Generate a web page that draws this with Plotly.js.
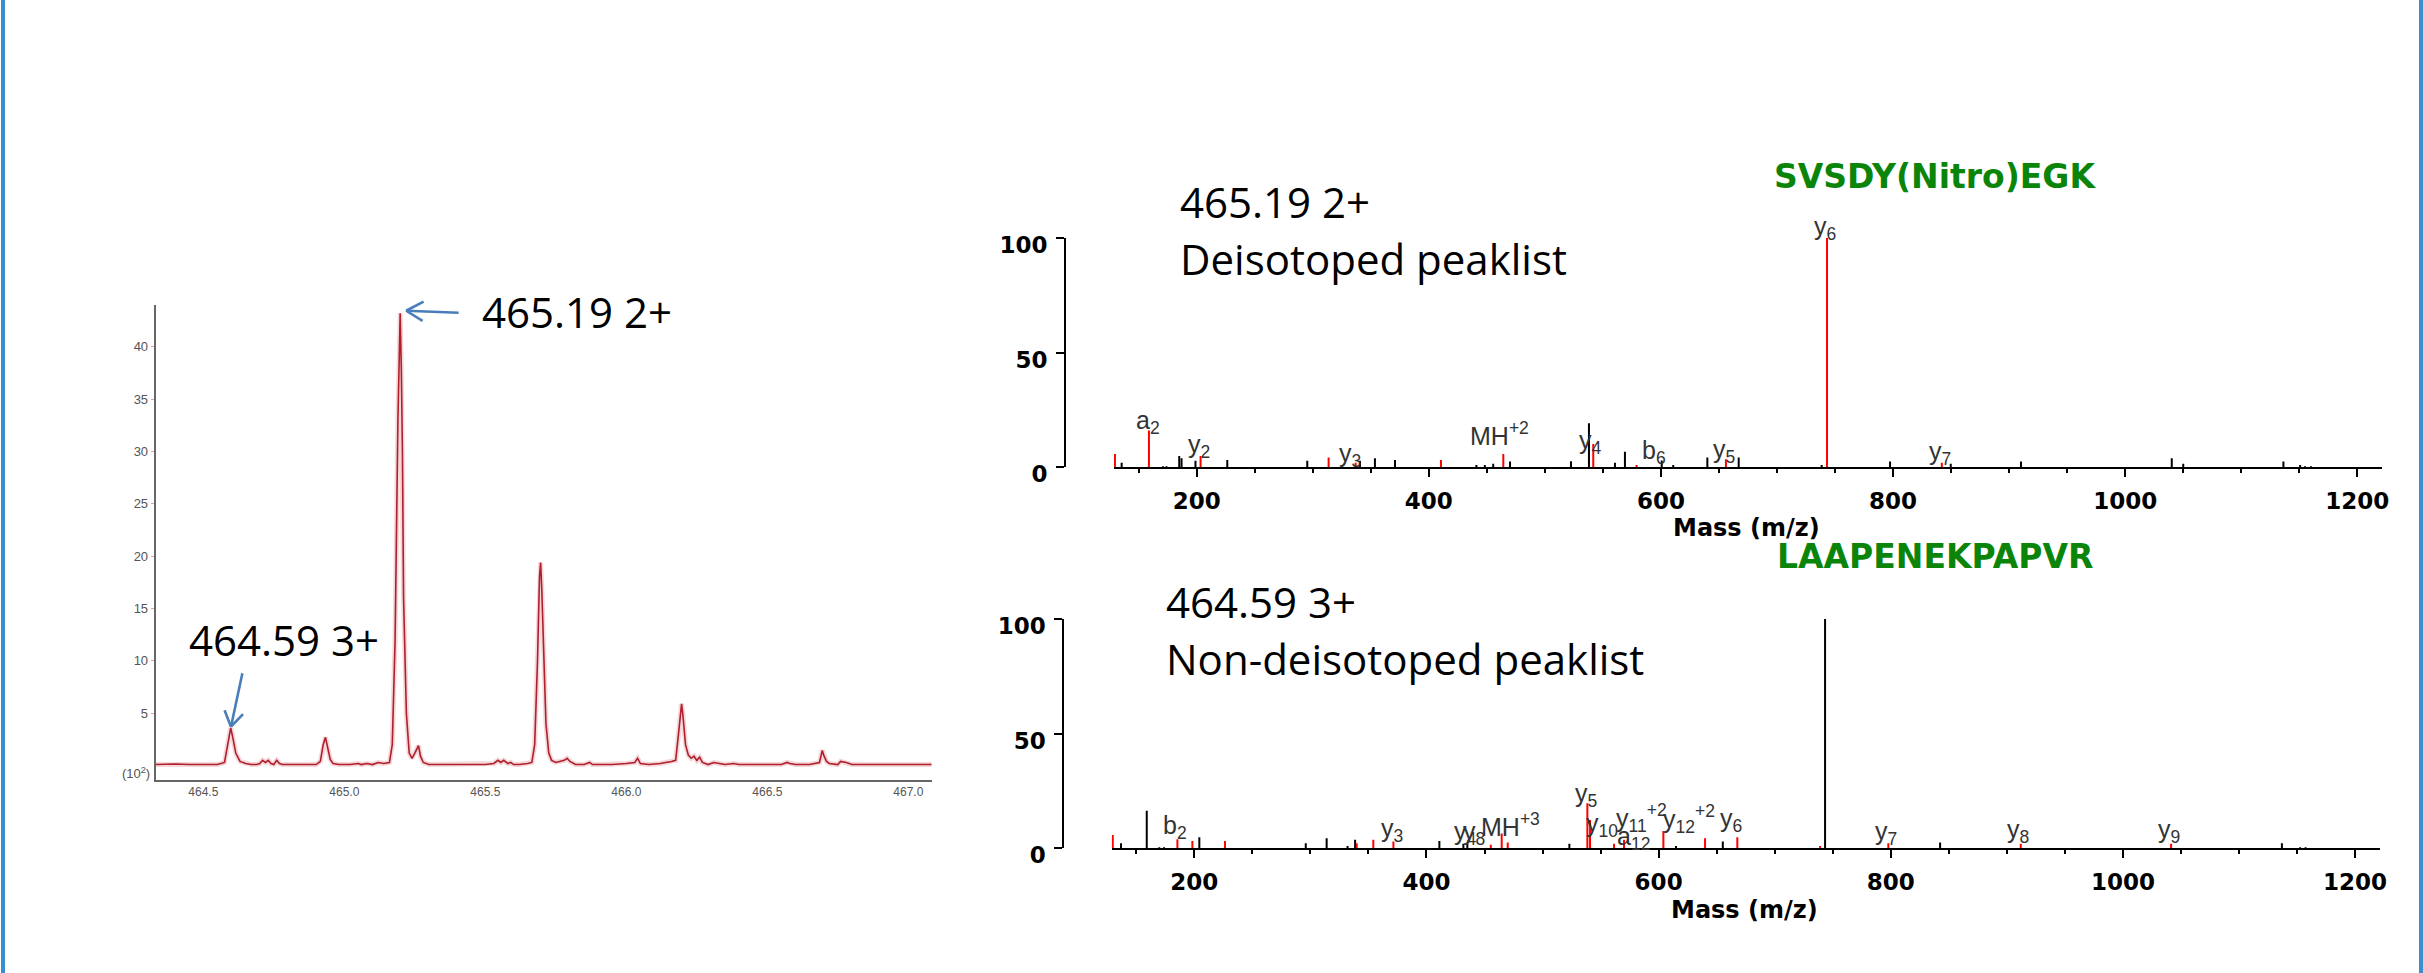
<!DOCTYPE html>
<html><head><meta charset="utf-8">
<script src="https://cdn.plot.ly/plotly-3.0.1.min.js"></script>
<style>html,body{margin:0;padding:0;background:#fff;} #chart{width:2423px;height:973px;}</style>
</head><body><div id="chart"></div>
<script>
// ---------- Left: MS1 profile (m/z vs intensity x10^2) ----------
const profMz = [464.33,464.40,464.45,464.50,464.55,464.575,464.585,464.597,464.605,464.615,464.63,464.65,464.67,464.69,464.70,464.71,464.72,464.73,464.74,464.75,464.76,464.77,464.78,464.80,464.85,464.90,464.915,464.925,464.933,464.94,464.95,464.96,464.98,465.02,465.05,465.06,465.08,465.10,465.12,465.14,465.16,465.17,465.18,465.19,465.198,465.202,465.206,465.21,465.22,465.23,465.24,465.25,465.263,465.27,465.28,465.30,465.35,465.40,465.45,465.50,465.53,465.545,465.555,465.565,465.58,465.59,465.60,465.62,465.65,465.665,465.675,465.685,465.692,465.696,465.70,465.708,465.715,465.725,465.735,465.75,465.78,465.79,465.80,465.82,465.85,465.87,465.88,465.90,465.95,466.00,466.03,466.04,466.05,466.08,466.12,466.16,466.175,466.185,466.196,466.20,466.205,466.21,466.22,466.23,466.24,466.25,466.26,466.27,466.29,466.31,466.35,466.38,466.40,466.45,466.50,466.55,466.57,466.58,466.60,466.65,466.685,466.695,466.70,466.71,466.72,466.75,466.76,466.78,466.80,466.85,466.90,466.95,467.00,467.083];
const profInt = [0.1,0.15,0.1,0.1,0.1,0.3,2.0,3.6,2.6,1.2,0.4,0.2,0.1,0.1,0.2,0.5,0.3,0.5,0.2,0.1,0.5,0.2,0.1,0.1,0.1,0.1,0.4,2.0,2.7,1.8,0.6,0.2,0.1,0.1,0.2,0.1,0.2,0.1,0.3,0.2,0.3,2.0,12,33,43.2,38,30,16,5,1.2,0.7,1.2,1.9,0.9,0.3,0.1,0.1,0.1,0.1,0.1,0.2,0.5,0.3,0.5,0.2,0.3,0.1,0.1,0.2,0.3,2.0,10,18,19.4,17,10,4,1.2,0.5,0.3,0.5,0.7,0.4,0.1,0.1,0.3,0.1,0.1,0.1,0.2,0.3,0.7,0.2,0.1,0.2,0.4,0.5,3.0,5.9,5.0,3.5,2.0,1.0,0.7,0.9,0.5,0.8,0.3,0.1,0.3,0.1,0.2,0.1,0.1,0.1,0.1,0.3,0.2,0.1,0.1,0.3,1.45,1.0,0.4,0.2,0.1,0.4,0.3,0.1,0.1,0.1,0.1,0.1,0.1];
const leftXTicks = [464.5,465.0,465.5,466.0,466.5,467.0];
const leftYTicks = [5,10,15,20,25,30,35,40];

// ---------- Top right: deisotoped peak list (SVSDY(Nitro)EGK) ----------
const topRedMz  = [129.6,158.9,203.4,313.7,337.0,410.5,464.2,541.7,579.0,656.0,743.1,842.0];
const topRedInt = [5.8,16.0,4.9,4.3,2.0,3.2,5.8,10.2,1.0,3.5,100,2.0];
const topBlackMz  = [135.4,171.0,174.0,185.0,187.0,199.0,226.4,295.3,340.7,353.6,370.9,441.0,448.3,455.5,470.0,522.5,538.0,560.4,569.0,600.7,610.6,640.0,667.0,738.5,797.4,849.7,910.2,1040.1,1050.0,1136.3,1150.7,1155.0,1160.0];
const topBlackInt = [2.0,0.5,0.5,4.9,3.9,2.9,3.2,2.9,2.9,3.9,3.2,1.0,1.0,1.5,2.5,2.6,19.2,2.0,6.8,3.0,1.0,4.3,4.3,1.0,2.5,1.5,2.5,3.9,1.5,2.5,1.0,0.5,0.5];
const topLabelText = ['a<sub>2</sub>','y<sub>2</sub>','y<sub>3</sub>','MH<sup>+2</sup>','y<sub>4</sub>','b<sub>6</sub>','y<sub>5</sub>','y<sub>6</sub>','y<sub>7</sub>'];
const topLabelMz   = [158.1,202.4,331.8,461.3,539.7,594.0,654.4,741.3,840.4];
const topLabelInt  = [17.7,6.9,3.0,12.2,9.0,4.3,5.1,102.2,3.9];

// ---------- Bottom right: non-deisotoped peak list (LAAPENEKPAPVR) ----------
const botRedMz  = [129.7,185.4,198.3,226.4,339.9,354.2,371.5,455.4,464.8,470.0,538.6,540.9,561.6,570.2,604.1,640.0,667.8,739.1,797.9,912.0,1041.5];
const botRedInt = [5.8,3.9,3.2,3.2,2.2,3.7,3.0,1.5,6.5,2.5,19.6,12.3,2.0,3.7,7.5,4.4,4.8,1.0,2.2,2.0,2.0];
const botBlackMz  = [136.8,159.0,169.8,173.9,204.3,296.0,314.0,332.0,338.5,411.1,431.8,435.2,523.1,615.0,655.3,743.4,842.5,1137.0,1152.7,1157.4];
const botBlackInt = [2.2,16.4,0.5,0.5,4.8,2.2,4.4,1.0,3.7,3.2,2.0,2.0,2.0,1.0,3.0,100,2.5,2.2,0.5,0.5];
const botLabelText = ['b<sub>2</sub>','y<sub>3</sub>','y<sub>4</sub>','y<sub>8</sub>','MH<sup>+3</sup>','y<sub>5</sub>','y<sub>10</sub>','a<sub>12</sub>','y<sub>11</sub><sup>+2</sup>','y<sub>12</sub><sup>+2</sup>','y<sub>6</sub>','y<sub>7</sub>','y<sub>8</sub>','y<sub>9</sub>'];
const botLabelMz   = [183.4,370.1,434.0,441.0,472.0,537.5,551.3,578.0,585.0,626.0,662.5,795.5,909.7,1039.7];
const botLabelInt  = [6.9,5.8,4.7,4.7,8.0,21.1,8.0,2.5,11.0,10.6,10.2,4.5,5.4,5.4];

const massTicks = [200,400,600,800,1000,1200];
const pctTicks = [0,50,100];

// ---------- helpers ----------
const W = 2423, H = 973;
const PX_PER_PCT = 2.293;
const px = v => v / W, py = v => 1 - v / H;
function sticks(mz, inten) {
  const xs = [], ys = [];
  for (let i = 0; i < mz.length; i++) { xs.push(mz[i], mz[i], null); ys.push(0, inten[i], null); }
  return {x: xs, y: ys};
}
const tRed = sticks(topRedMz, topRedInt), tBlk = sticks(topBlackMz, topBlackInt);
const bRed = sticks(botRedMz, botRedInt), bBlk = sticks(botBlackMz, botBlackInt);

const traces = [
  {x: profMz, y: profInt, type: 'scatter', mode: 'lines', xaxis: 'x', yaxis: 'y', line: {color: 'rgba(225,140,150,0.35)', width: 5}, hoverinfo: 'skip'},
  {x: profMz, y: profInt, type: 'scatter', mode: 'lines', xaxis: 'x', yaxis: 'y', line: {color: '#b01f2c', width: 1.6}},
  {x: tBlk.x, y: tBlk.y, type: 'scatter', mode: 'lines', xaxis: 'x2', yaxis: 'y2', line: {color: '#000', width: 2}},
  {x: tRed.x, y: tRed.y, type: 'scatter', mode: 'lines', xaxis: 'x2', yaxis: 'y2', line: {color: '#ff0000', width: 2}},
  {x: bBlk.x, y: bBlk.y, type: 'scatter', mode: 'lines', xaxis: 'x3', yaxis: 'y3', line: {color: '#000', width: 2}},
  {x: bRed.x, y: bRed.y, type: 'scatter', mode: 'lines', xaxis: 'x3', yaxis: 'y3', line: {color: '#ff0000', width: 2}}
];

const boldFont = {family: 'DejaVu Sans', size: 23, color: '#000', weight: 700};
function massAxis(dom, anchor) {
  return {domain: dom, anchor: anchor, range: [128.8, 1221.5], tickvals: massTicks, ticks: 'outside', ticklen: 8, tickwidth: 2,
    tickcolor: '#000', showline: true, linecolor: '#000', linewidth: 2, showgrid: false, zeroline: false,
    tickfont: boldFont, ticklabelstandoff: 4,
    minor: {dtick: 50, tick0: 0, ticks: 'outside', ticklen: 4, tickwidth: 2, tickcolor: '#000', showgrid: false}};
}
function pctAxis(dom, pos) {
  return {domain: dom, anchor: 'free', position: pos, range: [0, 100], tickvals: pctTicks, ticks: 'outside', ticklen: 8, tickwidth: 2,
    tickcolor: '#000', showline: true, linecolor: '#000', linewidth: 2, showgrid: false, zeroline: false,
    tickfont: boldFont, ticklabelstandoff: 4, ticklabelshift: 7};
}

const labelFont = {family: 'Liberation Sans, Arial', size: 25, color: '#333'};
const annotations = [];
function addLabel(xr, yr, mz, val, t) {
  const yv = Math.min(val, 100);
  annotations.push({xref: xr, yref: yr, x: mz, y: yv, yshift: 5 + (val - yv) * PX_PER_PCT, text: t, showarrow: false, font: labelFont, xanchor: 'center', yanchor: 'middle'});
}
topLabelText.forEach((t, i) => addLabel('x2', 'y2', topLabelMz[i], topLabelInt[i], t));
botLabelText.forEach((t, i) => addLabel('x3', 'y3', botLabelMz[i], botLabelInt[i], t));

// open "V" arrows (shaft + two wings) pointing at the two precursor peaks
const arrowBlue = '#4a7ebb';
function openArrow(x, y, parts) {
  parts.forEach(p => annotations.push({xref: 'x', yref: 'y', x: x, y: y, ax: p[0], ay: p[1], text: '', showarrow: true,
    arrowhead: 0, arrowwidth: 2.6, arrowcolor: arrowBlue, standoff: 0, startstandoff: 0}));
}
openArrow(465.219, 43.45, [[54, 2], [19, -10], [18, 11]]);
openArrow(464.598, 3.72, [[11.7, -55], [-7, -18], [13.5, -14]]);

const bigFont = {family: 'Open Sans', size: 42, color: '#000'};
const greenFont = {family: 'DejaVu Sans', size: 33, color: '#0a850a', weight: 700};
const massFont = {family: 'DejaVu Sans', size: 24, color: '#000', weight: 700};
annotations.push(
  {xref: 'paper', yref: 'paper', x: px(480), y: py(311.7), text: '465.19 2+', showarrow: false, font: bigFont, xanchor: 'left', yanchor: 'middle'},
  {xref: 'paper', yref: 'paper', x: px(187), y: py(639), text: '464.59 3+', showarrow: false, font: bigFont, xanchor: 'left', yanchor: 'middle'},
  {xref: 'paper', yref: 'paper', x: px(1178), y: py(201.7), text: '465.19 2+', showarrow: false, font: bigFont, xanchor: 'left', yanchor: 'middle'},
  {xref: 'paper', yref: 'paper', x: px(1178), y: py(258.3), text: 'Deisotoped peaklist', showarrow: false, font: bigFont, xanchor: 'left', yanchor: 'middle'},
  {xref: 'paper', yref: 'paper', x: px(1164), y: py(601.7), text: '464.59 3+', showarrow: false, font: bigFont, xanchor: 'left', yanchor: 'middle'},
  {xref: 'paper', yref: 'paper', x: px(1164), y: py(658.3), text: 'Non-deisotoped peaklist', showarrow: false, font: bigFont, xanchor: 'left', yanchor: 'middle'},
  {xref: 'paper', yref: 'paper', x: px(1935), y: py(176), text: 'SVSDY(Nitro)EGK', showarrow: false, font: greenFont, xanchor: 'center', yanchor: 'middle'},
  {xref: 'paper', yref: 'paper', x: px(1935), y: py(556), text: 'LAAPENEKPAPVR', showarrow: false, font: greenFont, xanchor: 'center', yanchor: 'middle'},
  {xref: 'paper', yref: 'paper', x: px(1746), y: py(528), text: 'Mass (m/z)', showarrow: false, font: massFont, xanchor: 'center', yanchor: 'middle'},
  {xref: 'paper', yref: 'paper', x: px(1744), y: py(910), text: 'Mass (m/z)', showarrow: false, font: massFont, xanchor: 'center', yanchor: 'middle'},
  {xref: 'paper', yref: 'paper', x: px(136), y: py(773), text: '(10<sup>2</sup>)', showarrow: false, font: {family: 'Liberation Sans, Arial', size: 13, color: '#555'}, xanchor: 'center', yanchor: 'middle'}
);

const layout = {
  width: W, height: H, margin: {l: 0, r: 0, t: 0, b: 0}, paper_bgcolor: '#fff', plot_bgcolor: '#fff', showlegend: false,
  xaxis: {domain: [px(155.7), px(931.7)], anchor: 'y', range: [464.331, 467.083], tickvals: leftXTicks, tickformat: '.1f',
    showline: true, linecolor: '#666', linewidth: 2, ticks: '', showgrid: false, zeroline: false,
    tickfont: {family: 'Liberation Sans, Arial', size: 12, color: '#555'}},
  yaxis: {domain: [py(780), py(305)], anchor: 'x', range: [-1.375, 44.0], tickvals: leftYTicks,
    showline: true, linecolor: '#666', linewidth: 2, ticks: 'outside', ticklen: 3, tickcolor: '#e6a0a6', showgrid: false, zeroline: false,
    tickfont: {family: 'Liberation Sans, Arial', size: 13, color: '#555'}},
  xaxis2: massAxis([px(1114), px(2382.3)], 'y2'),
  yaxis2: pctAxis([py(467.3), py(238)], px(1065)),
  xaxis3: massAxis([px(1111.7), px(2380)], 'y3'),
  yaxis3: pctAxis([py(848.3), py(619)], px(1063.3)),
  annotations: annotations,
  shapes: [
    {type: 'line', xref: 'paper', yref: 'paper', x0: px(3), x1: px(3), y0: 0, y1: 1, line: {color: '#3a8fd0', width: 4}},
    {type: 'line', xref: 'paper', yref: 'paper', x0: px(2421), x1: px(2421), y0: 0, y1: 1, line: {color: '#3a8fd0', width: 4}}
  ]
};

Plotly.newPlot('chart', traces, layout, {displayModeBar: false, staticPlot: true});
</script>
</body></html>
